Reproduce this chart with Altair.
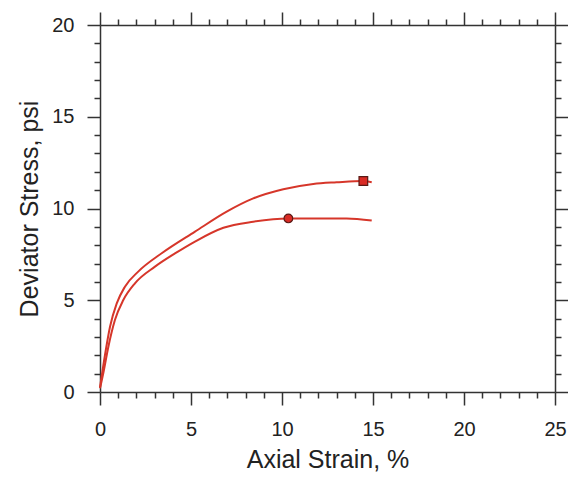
import altair as alt
import pandas as pd

# Upper curve (square marker)
strain_a = [0.0, 0.27, 0.55, 0.92, 1.37, 2.1, 3.39, 5.22, 6.96, 8.42, 10.07, 11.72, 13.0, 14.47, 14.93]
stress_a = [0.25, 2.0, 3.56, 4.83, 5.74, 6.56, 7.56, 8.74, 9.83, 10.55, 11.05, 11.34, 11.43, 11.5, 11.43]
# Lower curve (circle marker)
strain_b = [0.0, 0.18, 0.46, 0.82, 1.28, 1.92, 3.02, 4.12, 5.22, 6.78, 8.42, 10.35, 12.09, 13.55, 14.93]
stress_b = [0.2, 1.02, 2.47, 3.92, 5.01, 5.92, 6.83, 7.55, 8.2, 8.95, 9.28, 9.46, 9.46, 9.46, 9.34]

marker_x = [14.47, 10.35]
marker_y = [11.5, 9.46]
marker_shape = ["square", "circle"]
marker_series = ["A", "B"]

x_ticks = list(range(0, 26))
y_ticks = list(range(0, 21))

lines = pd.DataFrame({
    "strain": strain_a + strain_b,
    "stress": stress_a + stress_b,
    "series": ["A"] * len(strain_a) + ["B"] * len(strain_b),
})
markers = pd.DataFrame({"strain": marker_x, "stress": marker_y,
                        "shape": marker_shape, "series": marker_series})

FONT = "Liberation Sans"
major = {"condition": {"test": "datum.value % 5 === 0", "value": 13}, "value": 6}

xscale = alt.Scale(domain=[0, 25], nice=False, zero=False)
yscale = alt.Scale(domain=[0, 20], nice=False, zero=False)

common = dict(grid=False, domainColor="#333333", tickColor="#333333",
              domainWidth=1.5, tickWidth=1.5, tickSize=major, labelOverlap=False)

x_bottom = alt.Axis(orient="bottom", values=x_ticks, title="Axial Strain, %",
                    labelExpr="datum.value % 5 === 0 ? datum.label : ''",
                    labelFont=FONT, labelFontSize=20, labelColor="#222222",
                    labelPadding=14, labelFlush=False,
                    titleFont=FONT, titleFontSize=25, titleFontWeight="normal",
                    titleColor="#222222", titlePadding=8, **common)
y_left = alt.Axis(orient="left", values=y_ticks, title="Deviator Stress, psi",
                  labelExpr="datum.value % 5 === 0 ? datum.label : ''",
                  labelFont=FONT, labelFontSize=20, labelColor="#222222",
                  labelPadding=13, labelFlush=False,
                  titleFont=FONT, titleFontSize=25, titleFontWeight="normal",
                  titleColor="#222222", titlePadding=9, **common)
x_top = alt.Axis(orient="top", values=x_ticks, title=None, labels=False, **common)
y_right = alt.Axis(orient="right", values=y_ticks, title=None, labels=False, **common)

line_layer = alt.Chart(lines).mark_line(
    color="#d6362a", strokeWidth=2, interpolate="monotone"
).encode(
    x=alt.X("strain:Q", scale=xscale, axis=x_bottom),
    y=alt.Y("stress:Q", scale=yscale, axis=y_left),
    detail="series:N",
)

marker_layer = alt.Chart(markers).mark_point(
    filled=True, size=75, color="#d92b25", stroke="#5a1a16", strokeWidth=1.2, opacity=1
).encode(
    x=alt.X("strain:Q", scale=xscale, axis=x_top),
    y=alt.Y("stress:Q", scale=yscale, axis=y_right),
    shape=alt.Shape("shape:N", scale=alt.Scale(domain=["square", "circle"],
                                               range=["square", "circle"]), legend=None),
)

chart = alt.layer(line_layer, marker_layer).resolve_axis(
    x="independent", y="independent"
).properties(
    width=455, height=367,
    autosize=alt.AutoSizeParams(type="none"),
    padding={"left": 92, "top": 17, "right": 13, "bottom": 80},
    background="white",
).configure_view(stroke=None)

chart.save("out.html", embed_options={"renderer": "svg", "actions": False})
